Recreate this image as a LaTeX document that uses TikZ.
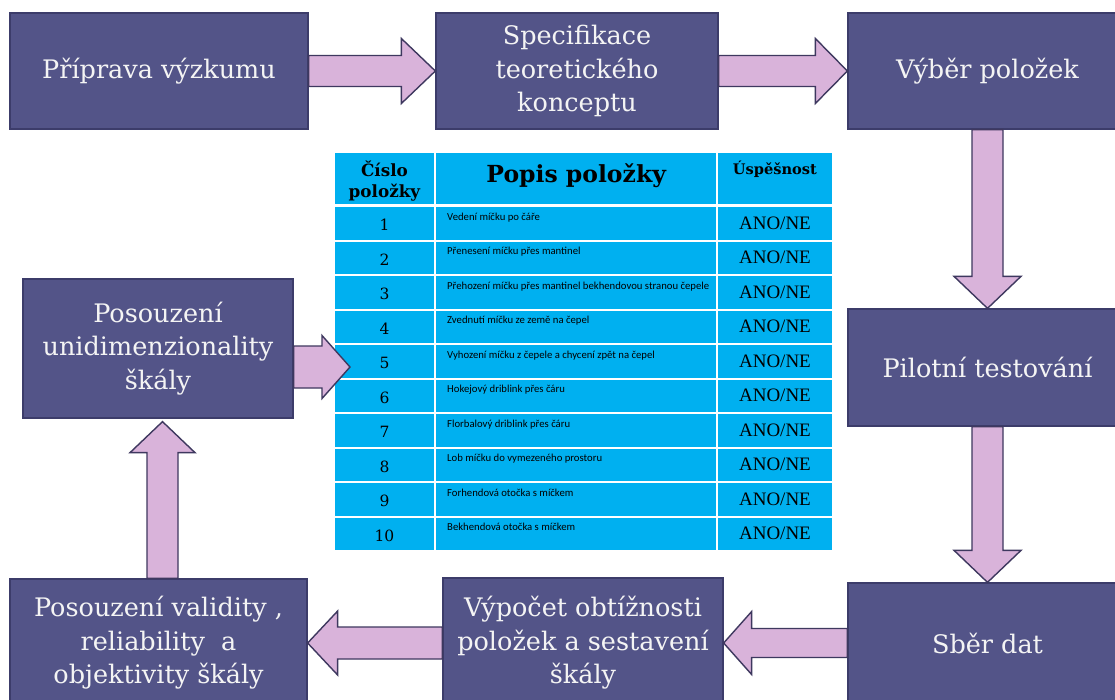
\documentclass[tikz,border=0pt]{standalone}
\usepackage{fontspec}
\setmainfont{DejaVu Serif}
\newfontfamily\descfont{Carlito}
\newfontfamily\anofont{Liberation Serif}
\usetikzlibrary{calc}
\definecolor{boxfill}{HTML}{535488}
\definecolor{boxline}{HTML}{3C3C6A}
\definecolor{arrfill}{HTML}{D9B3DA}
\definecolor{arrline}{HTML}{3E385F}
\definecolor{cellfill}{HTML}{00B0F0}
\definecolor{boxtext}{HTML}{F4F4F4}
\tikzset{
  stage/.style={draw=boxline, fill=boxfill, line width=1.3pt, text=boxtext,
    font=\fontsize{25.5}{33.5}\selectfont, align=center, inner sep=0pt},
  arrowbody/.style={draw=arrline, fill=arrfill, line width=1.4pt, line join=miter},
  cell/.style={fill=cellfill, draw=none, inner sep=0pt, anchor=north west},
  numtxt/.style={font=\fontsize{15.5}{16}\selectfont, anchor=base, inner sep=0pt},
  desctxt/.style={font=\descfont\fontsize{10.7}{12}\selectfont, anchor=base west, inner sep=0pt},
  anotxt/.style={font=\anofont\fontsize{19}{21}\selectfont, anchor=base, inner sep=0pt},
  headtxt/.style={font=\bfseries\fontsize{16.8}{21}\selectfont, align=center, anchor=base, inner sep=0pt},
}
% #2 start, #3 tip, #4 shaft half width, #5 head half width, #6 head length
\newcommand\blockarrow[6][]{%
  \coordinate (hb) at ($(#3)!#6!(#2)$);
  \draw[arrowbody,#1] ($(#2)!#4!90:(#3)$) -- ($(hb)!#4!90:(#3)$) -- ($(hb)!#5!90:(#3)$)
    -- (#3) -- ($(hb)!#5!-90:(#3)$) -- ($(hb)!#4!-90:(#3)$) -- ($(#2)!#4!-90:(#3)$) -- cycle;
}
\begin{document}
\begin{tikzpicture}[x=1pt,y=-1pt]
\useasboundingbox (0,0) rectangle (1115,699);
\fill[white] (0,0) rectangle (1115,699);
\clip (0,0) rectangle (1115,699);

% stages
\node[stage, minimum width=298pt, minimum height=116pt] (b1) at (159,71) {Příprava výzkumu};
\node[stage, minimum width=282pt, minimum height=116pt] (b2) at (577,71) {Specifikace\\teoretického\\konceptu};
\node[stage, minimum width=279pt, minimum height=116pt] (b3) at (987.5,71) {Výběr položek};
\node[stage, minimum width=279pt, minimum height=117pt] (b4) at (987.5,367.5) {Pilotní testování};
\node[stage, minimum width=279pt, minimum height=120pt] (b5) at (987.5,643) {Sběr dat};
\node[stage, minimum width=280pt, minimum height=130pt] (b6) at (583,643) {Výpočet obtížnosti\\položek a sestavení\\škály};
\node[stage, minimum width=297pt, minimum height=128pt] (b7) at (158.5,643) {Posouzení validity ,\\reliability~ a\\objektivity škály};
\node[stage, minimum width=270pt, minimum height=139pt] (b8) at (158,348.5) {Posouzení\\unidimenzionality\\škály};

% table
\node[cell, minimum width=99.5pt, minimum height=50.5pt] (h1) at (334.5,153) {};
\node[cell, minimum width=280pt, minimum height=50.5pt] (h2) at (436,153) {};
\node[cell, minimum width=113.5pt, minimum height=50.5pt] (h3) at (718,153) {};
\node[headtxt] (ht1) at ($(h1.north)+(0,44)$) {Číslo\\položky};
\node[headtxt, font=\bfseries\fontsize{23.5}{24}\selectfont] (ht2) at ($(h2.north)+(0,29)$) {Popis položky};
\node[headtxt, font=\bfseries\fontsize{14.6}{16}\selectfont] (ht3) at ($(h3.north)+(0,21)$) {Úspěšnost};

\foreach \i/\t in {1/Vedení míčku po čáře,
  2/Přenesení míčku přes mantinel,
  3/Přehození míčku přes mantinel bekhendovou stranou čepele,
  4/Zvednutí míčku ze země na čepel,
  5/Vyhození míčku z čepele a chycení zpět na čepel,
  6/Hokejový driblink přes čáru,
  7/Florbalový driblink přes čáru,
  8/Lob míčku do vymezeného prostoru,
  9/Forhendová otočka s míčkem,
  10/Bekhendová otočka s míčkem}{
  \pgfmathsetmacro\top{206+34.5*(\i-1)+1}
  \node[cell, minimum width=99.5pt, minimum height=32.5pt] (c\i-1) at (334.5,\top) {};
  \node[cell, minimum width=280pt, minimum height=32.5pt] (c\i-2) at (436,\top) {};
  \node[cell, minimum width=113.5pt, minimum height=32.5pt] (c\i-3) at (718,\top) {};
  \node[numtxt] (n\i) at ($(c\i-1.north)+(0,23.5)$) {\i};
  \node[desctxt] (d\i) at ($(c\i-2.north west)+(11,13)$) {\t};
  \node[anotxt] (a\i) at ($(c\i-3.north)+(0,22)$) {ANO/NE};
}

% arrows
\blockarrow{b1.east}{b2.west}{15.5pt}{32.5pt}{34pt}
\blockarrow{b2.east}{b3.west}{15.5pt}{32.5pt}{32pt}
\blockarrow{b3.south}{b4.north}{15.5pt}{33.5pt}{32pt}
\blockarrow{b4.south}{b5.north}{15.5pt}{33.5pt}{32pt}
\blockarrow{b5.west}{b6.east}{14.5pt}{31.5pt}{28pt}
\blockarrow{b6.west}{b7.east}{16pt}{32pt}{30pt}
\coordinate (u0) at ($(b7.north)+(4,0)$);
\coordinate (u1) at ($(b8.south -| u0)+(0,3)$);
\blockarrow{u0}{u1}{15.5pt}{32.5pt}{31pt}
\coordinate (m5) at (350,367);
\coordinate (m0) at (b8.east |- m5);
\blockarrow{m0}{m5}{21pt}{31.5pt}{28pt}
\end{tikzpicture}
\end{document}
